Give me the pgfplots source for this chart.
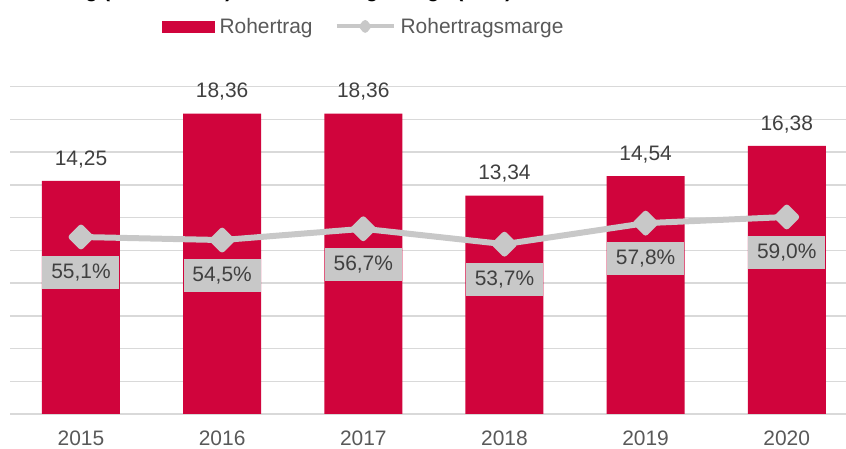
\documentclass[border=0pt]{standalone}
\usepackage{pgfplots}
\pgfplotsset{compat=1.18}
\usepackage{fontspec}
\setmainfont{Liberation Sans}
\definecolor{barc}{HTML}{D0043C}
\definecolor{lg}{HTML}{C8C8C8}
\definecolor{gridc}{HTML}{D9D9D9}
\definecolor{lab}{HTML}{404040}
\definecolor{tickc}{HTML}{595959}
\newcommand{\lf}{\fontsize{15.7}{18.8}\selectfont}
\begin{document}
\begin{tikzpicture}
\pgfplotsset{
  base/.style={width=635.2pt,height=245.5pt,scale only axis, xmin=-0.5,xmax=5.5, clip=false,
    /pgf/number format/assume math mode=true, /pgf/number format/use comma,
    /pgf/number format/fixed, /pgf/number format/fixed zerofill}
}
\begin{axis}[base, name=ax, ymin=0, ymax=20, ytick={0,2,...,20}, yticklabels={},
  ymajorgrids, grid style={gridc, line width=1.1pt}, axis line style={draw=none},
  major tick length=0pt, xtick={0,...,5}, xticklabels={2015,2016,2017,2018,2019,2020},
  xticklabel style={anchor=base, yshift=-24pt, font=\lf, text=tickc},
  ybar, bar width=58.5pt, nodes near coords, /pgf/number format/precision=2,
  every node near coord/.append style={anchor=base, yshift=11.8pt, font=\lf, text=lab, inner sep=0pt}]
\addplot[fill=barc, draw=none] coordinates {(0,14.25) (1,18.36) (2,18.36) (3,13.34) (4,14.54) (5,16.38)};
\end{axis}
\begin{axis}[base, ymin=20.6, ymax=84.4, hide axis, /pgf/number format/precision=1,
  legend columns=2,
  legend style={at={(0.179,1.184)}, anchor=west, draw=none, fill=none, inner sep=0pt, outer sep=0pt,
    font=\lf, text=tickc, nodes={inner sep=0pt},
    /tikz/every odd column/.append style={column sep=3.75pt},
    /tikz/every even column/.append style={column sep=16.5pt}}]
\addlegendimage{legend image code/.code={\fill[barc] (0pt,-4.125pt) rectangle (39pt,4.125pt);}}
\addlegendentry{Rohertrag}
\addplot[lg, line width=4.5pt, line join=round, mark=square*, mark size=5pt,
  mark options={rotate=45, draw=none, fill=lg},
  nodes near coords={\pgfmathprintnumber{\pgfplotspointmeta}\%},
  every node near coord/.append style={anchor=center, yshift=-26.5pt, fill=lg,
    minimum width=57.75pt, minimum height=24.75pt, inner sep=0pt, text=lab, font=\lf},
  legend image code/.code={\draw[lg, line width=3pt] (0pt,0pt)--(42.75pt,0pt);
    \fill[lg] (21.4pt,2.6pt)--(23.5pt,0pt)--(21.4pt,-2.6pt)--(19.3pt,0pt)--cycle;}]
  coordinates {(0,55.1) (1,54.5) (2,56.7) (3,53.7) (4,57.8) (5,59.0)};
\addlegendentry{Rohertragsmarge}
\end{axis}
\node[anchor=base west, font=\bfseries\fontsize{15.3}{18}\selectfont, inner sep=0pt]
  at ([shift={(-7.8pt,312pt)}]ax.south west) {Rohertrag (in Mio. EUR) und Rohertragsmarge (in \%)};
\pgfresetboundingbox
\path[use as bounding box] ([shift={(-7.8pt,-26.25pt)}]ax.south west) rectangle ([shift={(626.7pt,310.5pt)}]ax.south west);
\end{tikzpicture}
\end{document}
